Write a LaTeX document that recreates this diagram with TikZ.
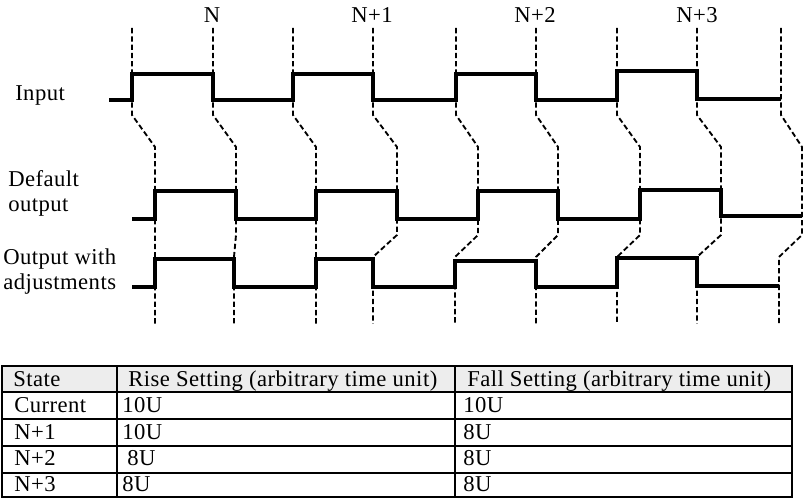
\documentclass[tikz,border=0pt]{standalone}
\usepackage{fontspec}
\setmainfont[LetterSpace=2]{Liberation Serif}
\begin{document}
\begin{tikzpicture}[x=0.75pt,y=-0.75pt,
  sig/.style={line width=2.6pt, line join=miter, line cap=butt},
  guide/.style={line width=1.4pt, dash pattern=on 4pt off 2.2pt},
  txt/.style={inner sep=0pt, font=\fontsize{17}{20}\selectfont},
  grid/.style={line width=1.4pt},
  frame/.style={line width=2pt},
]
\useasboundingbox (0,0) rectangle (803,498);

% dashed guides
\foreach \a/\d/\j in {132/155/155, 213/236/234, 293/316/316, 373/397/373, 456/478/455, 536/558/536, 617/640/617, 697/721/697, 781/802/779}
  \draw[guide] (\a,28) -- (\a,115) -- (\d,147) -- (\d,235) -- (\j,257) -- (\j,324);

% input
\draw[sig] (109,100) -- (132,100) -- (132,74) -- (213,74) -- (213,100) -- (293,100) -- (293,74) -- (373,74) -- (373,100) -- (456,100) -- (456,74) -- (536,74) -- (536,100) -- (617,100) -- (617,71) -- (697,71) -- (697,99) -- (781,99);
% default output
\draw[sig] (132,219) -- (155,219) -- (155,191) -- (236,191) -- (236,219) -- (316,219) -- (316,191) -- (397,191) -- (397,219) -- (478,219) -- (478,191) -- (558,191) -- (558,219) -- (640,219) -- (640,190) -- (721,190) -- (721,216) -- (802,216);
% output with adjustments
\draw[sig] (132,287) -- (155,287) -- (155,259) -- (234,259) -- (234,287) -- (316,287) -- (316,259) -- (373,259) -- (373,287) -- (455,287) -- (455,261) -- (536,261) -- (536,287) -- (617,287) -- (617,258) -- (697,258) -- (697,286) -- (779,286);

% top labels
\node[txt, anchor=base] (lN)  at (212,23) {N};
\node[txt, anchor=base] (lN1) at (372,23) {N+1};
\node[txt, anchor=base] (lN2) at (535,23) {N+2};
\node[txt, anchor=base] (lN3) at (697,23) {N+3};

% row labels
\node[txt, anchor=base west] (inp)  at (15,101) {Input};
\node[txt, anchor=base west] (def1) at (8,187) {Default};
\node[txt, anchor=base west] (def2) at (8,212) {output};
\node[txt, anchor=base west] (adj1) at (3,265) {Output with};
\node[txt, anchor=base west] (adj2) at (3,290) {adjustments};

% table
\fill[black!7] (2,366) rectangle (792,392);
\draw[grid] (2,392) -- (792,392);
\draw[grid] (2,419) -- (792,419);
\draw[grid] (2,446) -- (792,446);
\draw[grid] (2,473) -- (792,473);
\draw[grid] (117,366) -- (117,497);
\draw[grid] (455,366) -- (455,497);
\draw[frame] (2,366) rectangle (792,497);

\node[txt, anchor=base west] (h1) at (13,387) {State};
\node[txt, anchor=base west] (h2) at (128,387) {Rise Setting (arbitrary time unit)};
\node[txt, anchor=base west] (h3) at (467,387) {Fall Setting (arbitrary time unit)};

\node[txt, anchor=base west] (s1) at (14,413) {Current};
\node[txt, anchor=base west] (r1) at (122,413) {10U};
\node[txt, anchor=base west] (f1) at (463,413) {10U};

\node[txt, anchor=base west] (s2) at (14,440) {N+1};
\node[txt, anchor=base west] (r2) at (122,440) {10U};
\node[txt, anchor=base west] (f2) at (463,440) {8U};

\node[txt, anchor=base west] (s3) at (14,466) {N+2};
\node[txt, anchor=base west] (r3) at (127,466) {8U};
\node[txt, anchor=base west] (f3) at (463,466) {8U};

\node[txt, anchor=base west] (s4) at (14,492) {N+3};
\node[txt, anchor=base west] (r4) at (122,492) {8U};
\node[txt, anchor=base west] (f4) at (463,492) {8U};
\end{tikzpicture}
\end{document}
